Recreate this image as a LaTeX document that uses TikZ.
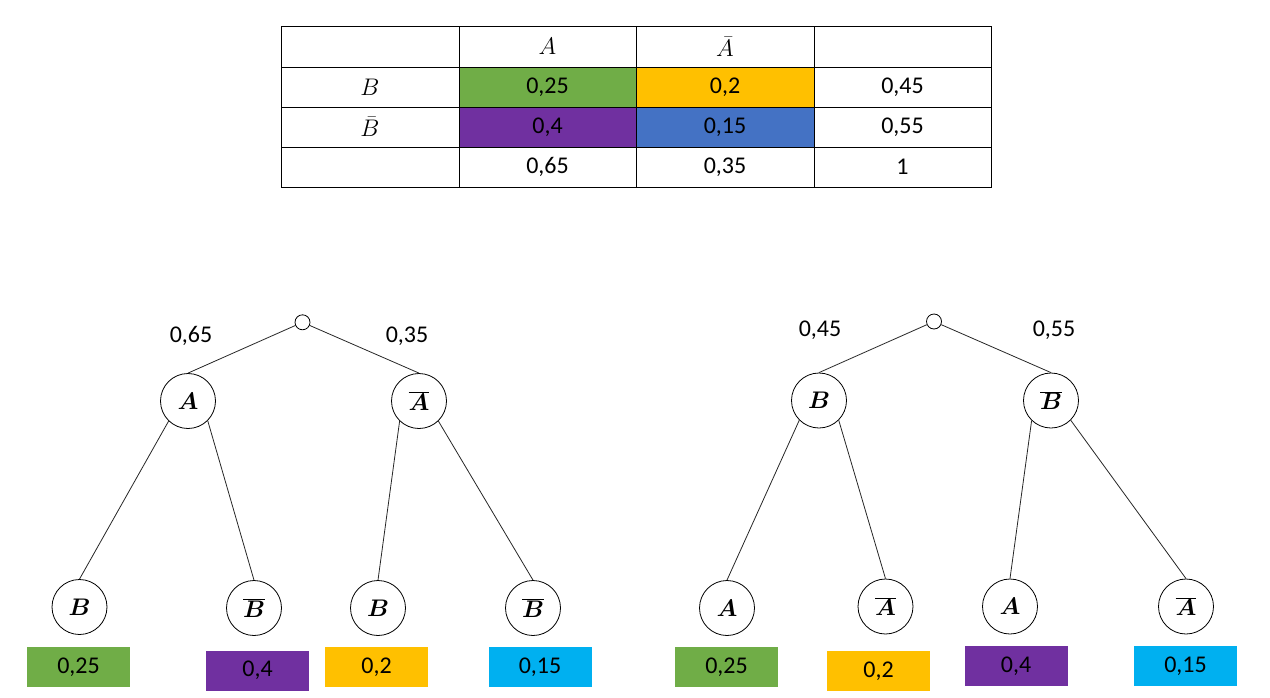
\RequirePackage{fix-cm}
\documentclass[tikz,border=0pt]{standalone}
\usepackage{fontspec}
\usepackage{bm}
\setmainfont{Carlito}
\definecolor{cgreen}{HTML}{70AD47}
\definecolor{cgold}{HTML}{FFC000}
\definecolor{cpurple}{HTML}{7030A0}
\definecolor{cblue}{HTML}{4472C4}
\definecolor{ccyan}{HTML}{00B0F0}
\tikzset{
  cell/.style={minimum width=177.5pt, minimum height=40.5pt, inner sep=0pt},
  gridline/.style={draw=black, line width=0.9pt},
  tnode/.style={draw=black, line width=0.8pt, circle, minimum size=55pt, inner sep=0pt},
  rootnode/.style={draw=black, line width=0.8pt, circle, minimum size=15pt, inner sep=0pt},
  pbox/.style={minimum width=103pt, minimum height=40pt, inner sep=0pt},
  edge/.style={line width=0.8pt, draw=black!85},
  plab/.style={inner sep=0pt}
}
\begin{document}
\begin{tikzpicture}[x=1pt, y=-1pt, font=\fontsize{24}{28}\selectfont]
\useasboundingbox (0,0) rectangle (1270,697);
% table
\node[cell] (c11) at (370,46.5) {};
\node[cell] (c12) at (547.5,46.5) {$A$};
\node[cell] (c13) at (725,46.5) {$\bar{A}$};
\node[cell] (c14) at (902.5,46.5) {};
\node[cell] (c21) at (370,87) {$B$};
\node[cell, fill=cgreen] (c22) at (547.5,87) {0,25};
\node[cell, fill=cgold] (c23) at (725,87) {0,2};
\node[cell] (c24) at (902.5,87) {0,45};
\node[cell] (c31) at (370,127) {$\bar{B}$};
\node[cell, fill=cpurple] (c32) at (547.5,127) {0,4};
\node[cell, fill=cblue] (c33) at (725,127) {0,15};
\node[cell] (c34) at (902.5,127) {0,55};
\node[cell] (c41) at (370,167) {};
\node[cell] (c42) at (547.5,167) {0,65};
\node[cell] (c43) at (725,167) {0,35};
\node[cell] (c44) at (902.5,167) {1};
\draw[gridline] (c11.north west) rectangle (c44.south east);
\draw[gridline] (c11.north east) -- (c41.south east);
\draw[gridline] (c12.north east) -- (c42.south east);
\draw[gridline] (c13.north east) -- (c43.south east);
\draw[gridline] (c11.south west) -- (c14.south east);
\draw[gridline] (c21.south west) -- (c24.south east);
\draw[gridline] (c31.south west) -- (c34.south east);

% left tree
\node[rootnode] (r1) at (302.5,322.3) {};
\node[tnode] (lA) at (188,401) {$\bm{A}$};
\node[tnode] (lAb) at (419,401) {$\overline{\bm{A}}$};
\node[tnode] (lAB) at (79.5,607) {$\bm{B}$};
\node[tnode] (lABb) at (254,608) {$\overline{\bm{B}}$};
\node[tnode] (lAbB) at (378,608) {$\bm{B}$};
\node[tnode] (lAbBb) at (533,608) {$\overline{\bm{B}}$};
\node[plab] (l65) at (191,336) {0,65};
\node[plab] (l35) at (407,336) {0,35};
\draw[edge] (r1) -- (lA.north);
\draw[edge] (r1) -- (lAb.north);
\draw[edge] (lA.226) -- (lAB.north);
\draw[edge] (lA.315) -- (lABb.north);
\draw[edge] (lAb.226) -- (lAbB.north);
\draw[edge] (lAb.314) -- (lAbBb.north);
\node[pbox, fill=cgreen] (lp1) at (78.5,667) {0,25};
\node[pbox, fill=cpurple] (lp2) at (257.5,670.5) {0,4};
\node[pbox, fill=cgold] (lp3) at (376.5,667) {0,2};
\node[pbox, fill=ccyan] (lp4) at (540,667) {0,15};

% right tree
\node[rootnode] (r2) at (934,321.5) {};
\node[tnode] (rB) at (819,400.5) {$\bm{B}$};
\node[tnode] (rBb) at (1051,400.5) {$\overline{\bm{B}}$};
\node[tnode] (rBA) at (727,608) {$\bm{A}$};
\node[tnode] (rBAb) at (885.5,606.5) {$\overline{\bm{A}}$};
\node[tnode] (rBbA) at (1010,606.5) {$\bm{A}$};
\node[tnode] (rBbAb) at (1186,606.5) {$\overline{\bm{A}}$};
\node[plab] (l45) at (820,330.5) {0,45};
\node[plab] (l55) at (1054,330) {0,55};
\draw[edge] (r2) -- (rB.north);
\draw[edge] (r2) -- (rBb.north);
\draw[edge] (rB.225) -- (rBA.north);
\draw[edge] (rB.315) -- (rBAb.north);
\draw[edge] (rBb.226) -- (rBbA.north);
\draw[edge] (rBb.315) -- (rBbAb.north);
\node[pbox, fill=cgreen] (rp1) at (726.5,667) {0,25};
\node[pbox, fill=cgold] (rp2) at (878.5,671) {0,2};
\node[pbox, fill=cpurple] (rp3) at (1016,666) {0,4};
\node[pbox, fill=ccyan] (rp4) at (1185.5,666) {0,15};
\end{tikzpicture}
\end{document}
